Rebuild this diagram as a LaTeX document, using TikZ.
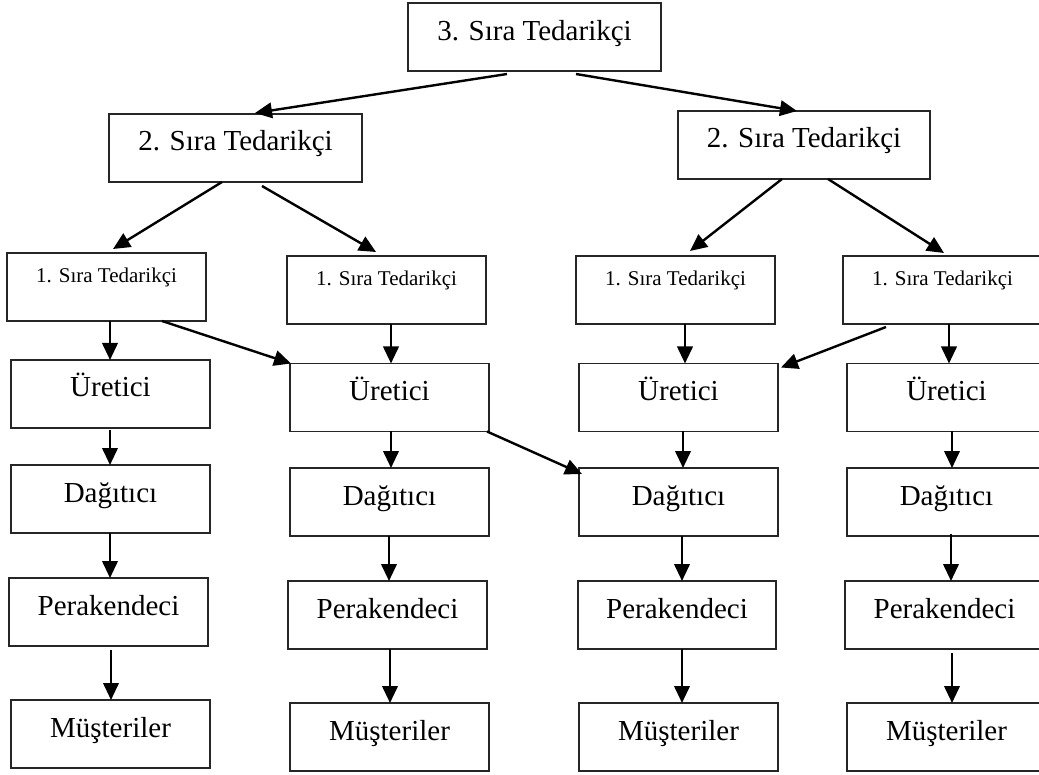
\documentclass[tikz,border=0pt]{standalone}
\usepackage{fontspec}
\setmainfont{Liberation Serif}
\usetikzlibrary{calc,arrows.meta}

\tikzset{
  box/.style={draw=black!85, line width=1.2pt, rectangle, minimum height=68pt, inner sep=0pt, outer sep=0pt},
  bigtext/.style={font=\fontsize{29}{34}\selectfont, inner sep=0pt, anchor=base},
  smalltext/.style={font=\fontsize{21}{25}\selectfont, inner sep=0pt, anchor=base},
  arr/.style={line width=2.4pt, -{Triangle[length=17pt,width=15.5pt]}},
}

% #1 name, #2 centre, #3 width, #4 text style, #5 baseline drop from top, #6 text
\newcommand{\chainbox}[6]{%
  \node[box, minimum width=#3] (#1) at #2 {};
  \node[#4] (#1-t) at ($(#1.north)+(0,#5)$) {#6};
}

\begin{document}
\begin{tikzpicture}[x=1pt, y=-1pt]
  \useasboundingbox (0,0) rectangle (1039,775);
  \clip (0,0) rectangle (1039,775);

  % suppliers
  \chainbox{t3}{(534.5,37)}{253pt}{bigtext}{38}{3. Sıra Tedarikçi}
  \chainbox{s2a}{(235.5,148)}{253pt}{bigtext}{37}{2. Sıra Tedarikçi}
  \chainbox{s2b}{(804,145)}{252pt}{bigtext}{37}{2. Sıra Tedarikçi}
  \chainbox{f1}{(106.5,287)}{199pt}{smalltext}{30}{1. Sıra Tedarikçi}
  \chainbox{f2}{(386.5,290)}{199pt}{smalltext}{30}{1. Sıra Tedarikçi}
  \chainbox{f3}{(675.5,290)}{199pt}{smalltext}{30}{1. Sıra Tedarikçi}
  \chainbox{f4}{(942.5,290)}{199pt}{smalltext}{30}{1. Sıra Tedarikçi}

  % producers
  \chainbox{u1}{(110.5,394)}{199pt}{bigtext}{37}{Üretici}
  \chainbox{u2}{(389.5,397.5)}{199pt}{bigtext}{37}{Üretici}
  \chainbox{u3}{(678.5,397.5)}{199pt}{bigtext}{37}{Üretici}
  \chainbox{u4}{(946.5,397.5)}{199pt}{bigtext}{37}{Üretici}

  % distributors
  \chainbox{d1}{(110.5,499)}{199pt}{bigtext}{37}{Dağıtıcı}
  \chainbox{d2}{(389.5,502)}{199pt}{bigtext}{37}{Dağıtıcı}
  \chainbox{d3}{(678.5,502)}{199pt}{bigtext}{37}{Dağıtıcı}
  \chainbox{d4}{(946.5,502)}{199pt}{bigtext}{37}{Dağıtıcı}

  % retailers
  \chainbox{p1}{(108.5,612)}{199pt}{bigtext}{37}{Perakendeci}
  \chainbox{p2}{(387.5,615)}{199pt}{bigtext}{37}{Perakendeci}
  \chainbox{p3}{(677,615)}{198pt}{bigtext}{37}{Perakendeci}
  \chainbox{p4}{(944.5,615)}{199pt}{bigtext}{37}{Perakendeci}

  % customers
  \chainbox{m1}{(110.5,734)}{199pt}{bigtext}{37}{Müşteriler}
  \chainbox{m2}{(389.5,737)}{199pt}{bigtext}{37}{Müşteriler}
  \chainbox{m3}{(678.5,737)}{199pt}{bigtext}{37}{Müşteriler}
  \chainbox{m4}{(946.5,737)}{199pt}{bigtext}{37}{Müşteriler}

  % tier 3 -> tier 2
  \draw[arr] ($(t3.south)+(-27.5,3)$) -- ($(s2a.north)+(19.5,-1)$);
  \draw[arr] ($(t3.south)+(41.5,3)$) -- ($(s2b.north)+(-7,0)$);

  % tier 2 -> tier 1
  \draw[arr] ($(s2a.south)+(-13.5,0)$) -- ($(f1.north)+(6.5,-4)$);
  \draw[arr] ($(s2a.south)+(26.5,4)$) -- ($(f2.north)+(-10.5,-4)$);
  \draw[arr] ($(s2b.south)+(-22,0)$) -- ($(f3.north)+(14.5,-5)$);
  \draw[arr] ($(s2b.south)+(24,0)$) -- ($(f4.north)+(1.5,-3)$);

  % tier 1 -> producers
  \draw[arr] ($(f1.south)+(3.5,0)$) -- ($(u1.north)+(-0.5,0)$);
  \draw[arr] ($(f1.south)+(55.5,0)$) -- ($(u2.north west)+(1,0)$);
  \draw[arr] ($(f2.south)+(4.5,0)$) -- ($(u2.north)+(1.5,0)$);
  \draw[arr] ($(f3.south)+(9.5,0)$) -- ($(u3.north)+(6.5,0)$);
  \draw[arr] ($(f4.south)+(-56.5,3)$) -- ($(u3.north east)+(3,4)$);
  \draw[arr] ($(f4.south)+(6.5,0)$) -- ($(u4.north)+(2.5,0)$);

  % producers -> distributors
  \draw[arr] ($(u1.south)+(-0.5,2)$) -- ($(d1.north)+(-0.5,0)$);
  \draw[arr] ($(u2.south)+(1.5,0)$) -- ($(d2.north)+(1.5,0)$);
  \draw[arr] ($(u2.south east)+(-2,0)$) -- ($(d3.north west)+(3,6)$);
  \draw[arr] ($(u3.south)+(4.5,0)$) -- ($(d3.north)+(4.5,0)$);
  \draw[arr] ($(u4.south)+(5.5,0)$) -- ($(d4.north)+(5.5,0)$);

  % distributors -> retailers
  \draw[arr] ($(d1.south)+(-0.5,0)$) -- ($(p1.north)+(1.5,0)$);
  \draw[arr] ($(d2.south)+(-0.5,0)$) -- ($(p2.north)+(1.5,0)$);
  \draw[arr] ($(d3.south)+(3.5,0)$) -- ($(p3.north)+(5,0)$);
  \draw[arr] ($(d4.south)+(4.5,-2)$) -- ($(p4.north)+(6.5,0)$);

  % retailers -> customers
  \draw[arr] ($(p1.south)+(2.5,4)$) -- ($(m1.north)+(0.5,0)$);
  \draw[arr] ($(p2.south)+(2.5,0)$) -- ($(m2.north)+(0.5,0)$);
  \draw[arr] ($(p3.south)+(5,0)$) -- ($(m3.north)+(3.5,0)$);
  \draw[arr] ($(p4.south)+(7.5,4)$) -- ($(m4.north)+(5.5,0)$);
\end{tikzpicture}
\end{document}
